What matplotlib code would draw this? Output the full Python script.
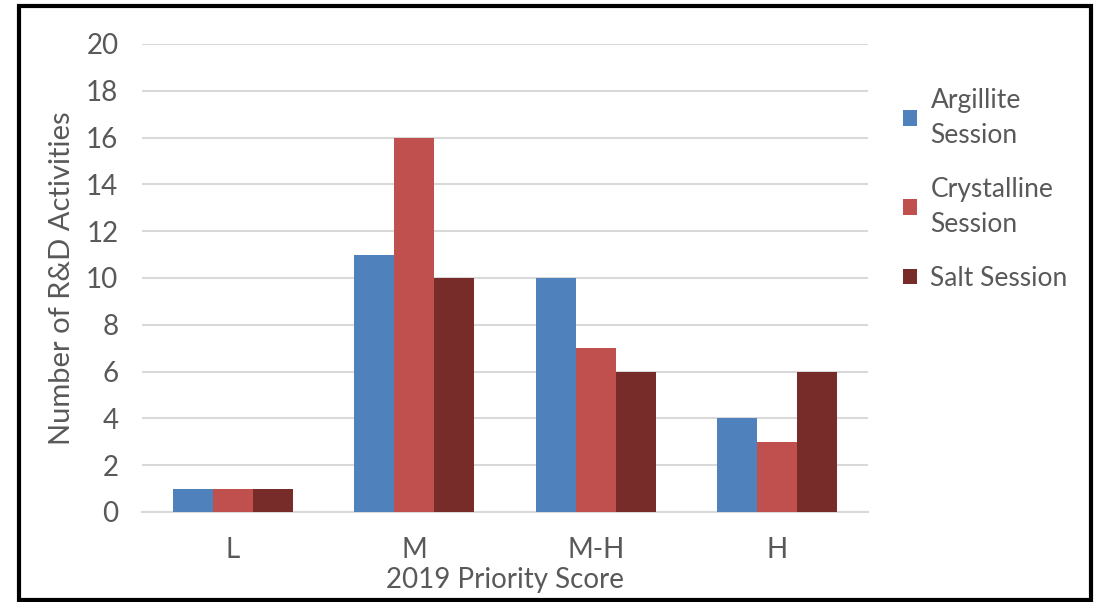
import matplotlib.pyplot as plt
import numpy as np
from matplotlib.patches import Rectangle

categories = ["L", "M", "M-H", "H"]
argillite = [1, 11, 10, 4]
crystalline = [1, 16, 7, 3]
salt = [1, 10, 6, 6]
series_names = ["Argillite\nSession", "Crystalline\nSession", "Salt Session"]
colors = ["#4F81BD", "#C0504D", "#772C2A"]

plt.rcParams['font.family'] = ['Lato', 'DejaVu Sans']
txt = "#595959"

fig = plt.figure(figsize=(10.96, 6.02), dpi=100)
ax = fig.add_axes([142/1096, 1-512/602, 726/1096, 468/602])

x = np.arange(len(categories))
w = 0.22
for i, (vals, name, c) in enumerate(zip([argillite, crystalline, salt], series_names, colors)):
    ax.bar(x + (i-1)*w, vals, w, color=c, label=name, zorder=3)

ax.set_xlim(-0.5, 3.5)
ax.set_ylim(0, 20)
ax.set_yticks(range(0, 21, 2))
ax.set_xticks(x)
ax.set_xticklabels(categories)
ax.grid(axis='y', color='#D9D9D9', linewidth=1.5, zorder=0)
for s in ax.spines.values():
    s.set_visible(False)
ax.spines['bottom'].set_visible(True)
ax.spines['bottom'].set_color('#D9D9D9')
ax.spines['bottom'].set_linewidth(1.5)
ax.tick_params(length=0, labelsize=20, colors=txt)
ax.tick_params(axis='y', pad=17)
ax.tick_params(axis='x', pad=18)
ax.set_xlabel("2019 Priority Score", fontsize=20, color=txt, labelpad=3)
ax.set_ylabel("Number of R&D Activities", fontsize=21, color=txt, labelpad=8)

leg = ax.legend(loc='upper left', bbox_to_anchor=(879/1096, 1-64/602), bbox_transform=fig.transFigure,
                frameon=False, fontsize=19, handlelength=0.55, handleheight=0.55,
                handletextpad=0.5, labelspacing=1.1, labelcolor=txt)
for t in leg.get_texts():
    t.set_linespacing(1.5)

fig.patches.append(Rectangle((19/1096, 1-600/602), (1091-19)/1096, (600-6)/602,
                             transform=fig.transFigure, fill=False, edgecolor='black', linewidth=3))

fig.savefig("out.png", dpi=100)
